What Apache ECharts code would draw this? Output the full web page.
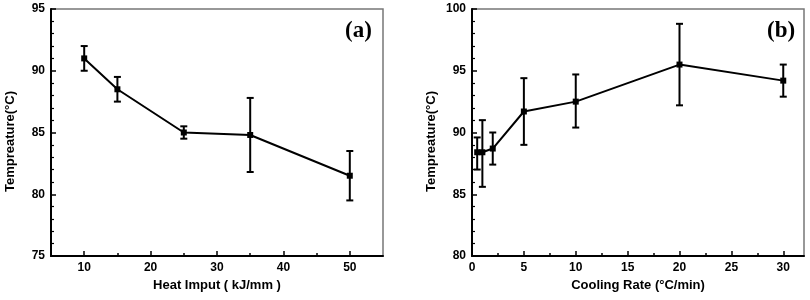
<!DOCTYPE html>
<html>
<head>
<meta charset="utf-8">
<script src="https://cdn.jsdelivr.net/npm/echarts@6/dist/echarts.min.js"></script>
<style>html,body{margin:0;padding:0;background:#fff}#c{width:810px;height:300px}</style>
</head>
<body>
<div id="c"></div>
<script>
// Panel (a): Heat input
const heatInput = [10, 15, 25, 35, 50];
const tempA = [91, 88.5, 85, 84.8, 81.5];
const tempAHigh = [92, 89.5, 85.5, 87.8, 83.5];
const tempALow = [90, 87.5, 84.5, 81.8, 79.5];
const xTicksA = [10, 20, 30, 40, 50];
const xMinorA = [15, 25, 35, 45];

// Panel (b): Cooling rate
const coolingRate = [0.5, 1, 2, 5, 10, 20, 30];
const tempB = [88.4, 88.4, 88.7, 91.7, 92.5, 95.5, 94.2];
const tempBHigh = [89.6, 91.0, 90.0, 94.4, 94.7, 98.8, 95.5];
const tempBLow = [87.0, 85.6, 87.4, 89.0, 90.4, 92.2, 92.9];
const xTicksB = [0, 5, 10, 15, 20, 25, 30];
const xMinorB = [2.5, 7.5, 12.5, 17.5, 22.5, 27.5];

const FONT = 'Liberation Sans, Arial, sans-serif';
const chart = echarts.init(document.getElementById('c'), null, {renderer: 'canvas'});

function errItem(params, api) {
  const x = api.value(0);
  const hi = api.coord([x, api.value(1)]);
  const lo = api.coord([x, api.value(2)]);
  const hw = 3.5;
  const st = {stroke: '#000', lineWidth: 2};
  return {type: 'group', children: [
    {type: 'line', shape: {x1: hi[0], y1: hi[1], x2: lo[0], y2: lo[1]}, style: st},
    {type: 'line', shape: {x1: hi[0]-hw, y1: hi[1], x2: hi[0]+hw, y2: hi[1]}, style: st},
    {type: 'line', shape: {x1: lo[0]-hw, y1: lo[1], x2: lo[0]+hw, y2: lo[1]}, style: st}
  ]};
}

const labelStyle = {color: '#000', fontFamily: FONT, fontWeight: 'bold', fontSize: 12};
const nameStyle = {color: '#000', fontFamily: FONT, fontWeight: 'bold', fontSize: 13};

function xMain(grid, min, max, ticks, name) {
  return {
    type: 'value', gridIndex: grid, min: min, max: max, position: 'bottom',
    name: name, nameLocation: 'middle', nameGap: 22, nameTextStyle: nameStyle,
    axisLine: {show: true, onZero: false, lineStyle: {color: '#000', width: 2}},
    axisTick: {show: true, inside: true, length: 5, lineStyle: {color: '#000', width: 1.5}, customValues: ticks},
    axisLabel: {show: true, margin: 6, customValues: ticks, ...labelStyle},
    splitLine: {show: false}
  };
}
function xMinor(grid, min, max, ticks) {
  return {
    type: 'value', gridIndex: grid, min: min, max: max, position: 'bottom',
    axisLine: {show: false, onZero: false},
    axisTick: {show: true, inside: true, length: 3, lineStyle: {color: '#000', width: 1.5}, customValues: ticks},
    axisLabel: {show: false},
    splitLine: {show: false}
  };
}
function yAxis(grid, min, max) {
  return {
    type: 'value', gridIndex: grid, min: min, max: max, interval: 5,
    name: 'Tempreature(°C)', nameLocation: 'middle', nameGap: 34,
    nameTextStyle: Object.assign({padding: [0, 18, 0, 0]}, nameStyle),
    axisLine: {show: true, onZero: false, lineStyle: {color: '#000', width: 2}},
    axisTick: {show: true, inside: true, length: 5, lineStyle: {color: '#000', width: 1.5}},
    minorTick: {show: true, splitNumber: 5, length: 3, lineStyle: {color: '#000', width: 1.2}},
    axisLabel: {show: true, margin: 6, ...labelStyle},
    splitLine: {show: false}
  };
}

const option = {
  animation: false,
  backgroundColor: '#fff',
  grid: [
    {left: 51, right: 427, top: 9, bottom: 44, show: true, borderColor: '#777', borderWidth: 1.5},
    {left: 472, right: 6, top: 9, bottom: 44, show: true, borderColor: '#777', borderWidth: 1.5}
  ],
  xAxis: [
    xMain(0, 5, 55, xTicksA, 'Heat Imput ( kJ/mm )'),
    xMinor(0, 5, 55, xMinorA),
    xMain(1, 0, 32, xTicksB, 'Cooling Rate (°C/min)'),
    xMinor(1, 0, 32, xMinorB)
  ],
  yAxis: [yAxis(0, 75, 95), yAxis(1, 80, 100)],
  graphic: [
    {type: 'text', left: 345, top: 20, style: {text: '(a)', fontFamily: 'Liberation Serif, Times New Roman, serif', fontWeight: 'bold', fontSize: 23, fill: '#000'}},
    {type: 'text', left: 767, top: 20, style: {text: '(b)', fontFamily: 'Liberation Serif, Times New Roman, serif', fontWeight: 'bold', fontSize: 23, fill: '#000'}}
  ],
  series: [
    {type: 'custom', xAxisIndex: 0, yAxisIndex: 0, renderItem: errItem,
     data: heatInput.map((x, i) => [x, tempAHigh[i], tempALow[i]]), z: 3},
    {type: 'line', xAxisIndex: 0, yAxisIndex: 0, data: heatInput.map((x, i) => [x, tempA[i]]),
     symbol: 'rect', symbolSize: 6, lineStyle: {color: '#000', width: 2}, itemStyle: {color: '#000'}, z: 4},
    {type: 'custom', xAxisIndex: 2, yAxisIndex: 1, renderItem: errItem,
     data: coolingRate.map((x, i) => [x, tempBHigh[i], tempBLow[i]]), z: 3},
    {type: 'line', xAxisIndex: 2, yAxisIndex: 1, data: coolingRate.map((x, i) => [x, tempB[i]]),
     symbol: 'rect', symbolSize: 6, lineStyle: {color: '#000', width: 2}, itemStyle: {color: '#000'}, z: 4}
  ]
};
chart.setOption(option);
</script>
</body>
</html>
